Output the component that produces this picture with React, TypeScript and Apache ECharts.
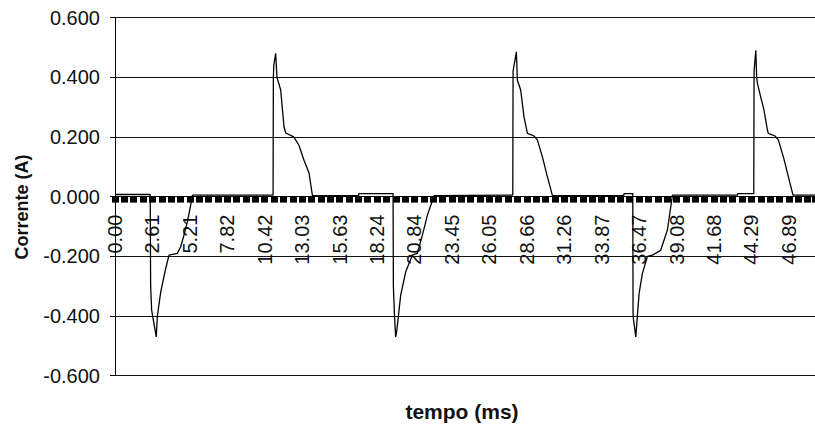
import React, { useEffect, useRef } from "react";
import * as echarts from "echarts";

// tick labels shown on the time axis (ms)
const tickLabels = [
  "0.00", "2.61", "5.21", "7.82", "10.42", "13.03", "15.63", "18.24", "20.84", "23.45",
  "26.05", "28.66", "31.26", "33.87", "36.47", "39.08", "41.68", "44.29", "46.89",
];
const tickStep = 2.605; // ms between labelled ticks
const timeMax = 48.71;

// waveform breakpoints
const timeMs = [
  0, 2.45, 2.48, 2.55, 2.87, 2.95, 3.18, 3.53, 3.76, 4.34, 4.57, 4.8, 5.04, 5.27, 5.39,
  11.0, 11.02, 11.05, 11.18, 11.27, 11.53, 11.76, 11.88, 12.44, 12.8, 13.15, 13.5, 13.74,
  16.95, 16.97, 19.35, 19.37, 19.45, 19.53, 19.6, 19.88, 20.23, 20.7, 21.04, 21.39, 21.74, 22.2,
  27.68, 27.7, 27.93, 28.0, 28.23, 28.46, 28.7, 29.16, 29.39, 29.74, 30.09, 30.44,
  35.4, 35.42, 36.03, 36.05, 36.24, 36.47, 36.7, 37.05, 37.4, 37.97, 38.44, 38.79,
  43.31, 43.33, 44.45, 44.47, 44.59, 44.65, 44.7, 44.93, 45.16, 45.4, 45.46, 45.93, 46.16,
  46.51, 46.86, 47.18, 48.71,
];
const currentA = [
  0.007, 0.007, -0.3, -0.38, -0.47, -0.4, -0.32, -0.24, -0.196, -0.19, -0.168, -0.129, -0.084, -0.028, 0.005,
  0.005, 0.4, 0.44, 0.48, 0.4, 0.357, 0.234, 0.213, 0.2, 0.172, 0.122, 0.079, 0.003,
  0.003, 0.01, 0.01, -0.3, -0.4, -0.47, -0.453, -0.33, -0.252, -0.196, -0.19, -0.129, -0.062, 0.003,
  0.005, 0.42, 0.485, 0.39, 0.357, 0.267, 0.212, 0.203, 0.19, 0.133, 0.066, 0.003,
  0.003, 0.01, 0.01, -0.4, -0.47, -0.324, -0.257, -0.2, -0.196, -0.18, -0.112, 0.005,
  0.005, 0.01, 0.01, 0.42, 0.49, 0.4, 0.38, 0.334, 0.29, 0.223, 0.212, 0.203, 0.19,
  0.133, 0.066, 0.005, 0.005,
];

const yMin = -0.6;
const yMax = 0.6;
const yStep = 0.2;

const FONT = "'Liberation Sans', Arial, sans-serif";

const GRID_TOP = 17.5;
const GRID_BOTTOM = 49.3;
const GRID_H = 425 - GRID_TOP - GRID_BOTTOM;

export default function App() {
  const ref = useRef<HTMLDivElement>(null);

  useEffect(() => {
    if (!ref.current) return;
    const chart = echarts.init(ref.current, undefined, { renderer: "svg" });
    const data = timeMs.map((t, i) => [t, currentA[i]]);
    // distance from grid bottom to the value 0 line
    const zeroOffset = (GRID_H * (0 - yMin)) / (yMax - yMin);
    chart.setOption({
      animation: false,
      backgroundColor: "#ffffff",
      grid: {
        left: 115,
        right: 0,
        top: GRID_TOP,
        bottom: GRID_BOTTOM,
        containLabel: false,
        outerBoundsMode: "none",
      },
      xAxis: {
        type: "value",
        position: "bottom",
        offset: -zeroOffset,
        min: 0,
        max: timeMax,
        interval: tickStep,
        axisLine: { show: true, onZero: false, lineStyle: { color: "#000", width: 1 } },
        axisTick: { show: true, inside: false, length: 6, lineStyle: { color: "#000", width: 7 } },
        minorTick: { show: true, splitNumber: 4, length: 6, lineStyle: { color: "#000", width: 7 } },
        splitLine: { show: false },
        axisLabel: {
          rotate: 90,
          margin: 18,
          fontSize: 20,
          fontFamily: FONT,
          color: "#111",
          showMaxLabel: false,
          hideOverlap: false,
          formatter: (v: number) => {
            const i = Math.round(v / tickStep);
            return Math.abs(v - i * tickStep) < 1e-3 && i < tickLabels.length ? tickLabels[i] : "";
          },
        },
      },
      yAxis: {
        type: "value",
        min: yMin,
        max: yMax,
        interval: yStep,
        axisLine: { show: true, lineStyle: { color: "#000", width: 1 } },
        axisTick: { show: true, length: 5, lineStyle: { color: "#000" } },
        splitLine: { show: true, lineStyle: { color: "#111", width: 1.2 } },
        axisLabel: {
          margin: 15,
          fontSize: 20,
          fontFamily: FONT,
          color: "#111",
          formatter: (v: number) => v.toFixed(3),
        },
      },
      series: [
        {
          type: "line",
          data,
          showSymbol: false,
          symbol: "none",
          lineStyle: { color: "#000", width: 1.3 },
          z: 5,
        },
      ],
      graphic: [
        {
          type: "text",
          x: 22,
          y: 207,
          rotation: Math.PI / 2,
          style: {
            text: "Corrente (A)",
            font: `bold 18px ${FONT}`,
            fill: "#111",
            align: "center",
            verticalAlign: "middle",
          },
        },
        {
          type: "text",
          x: 462,
          y: 411,
          style: {
            text: "tempo (ms)",
            font: `bold 21px ${FONT}`,
            fill: "#111",
            align: "center",
            verticalAlign: "middle",
          },
        },
      ],
    });
    return () => chart.dispose();
  }, []);

  return (
    <div
      ref={ref}
      style={{ position: "fixed", left: 0, top: 0, width: 815, height: 425, background: "#fff" }}
    />
  );
}
